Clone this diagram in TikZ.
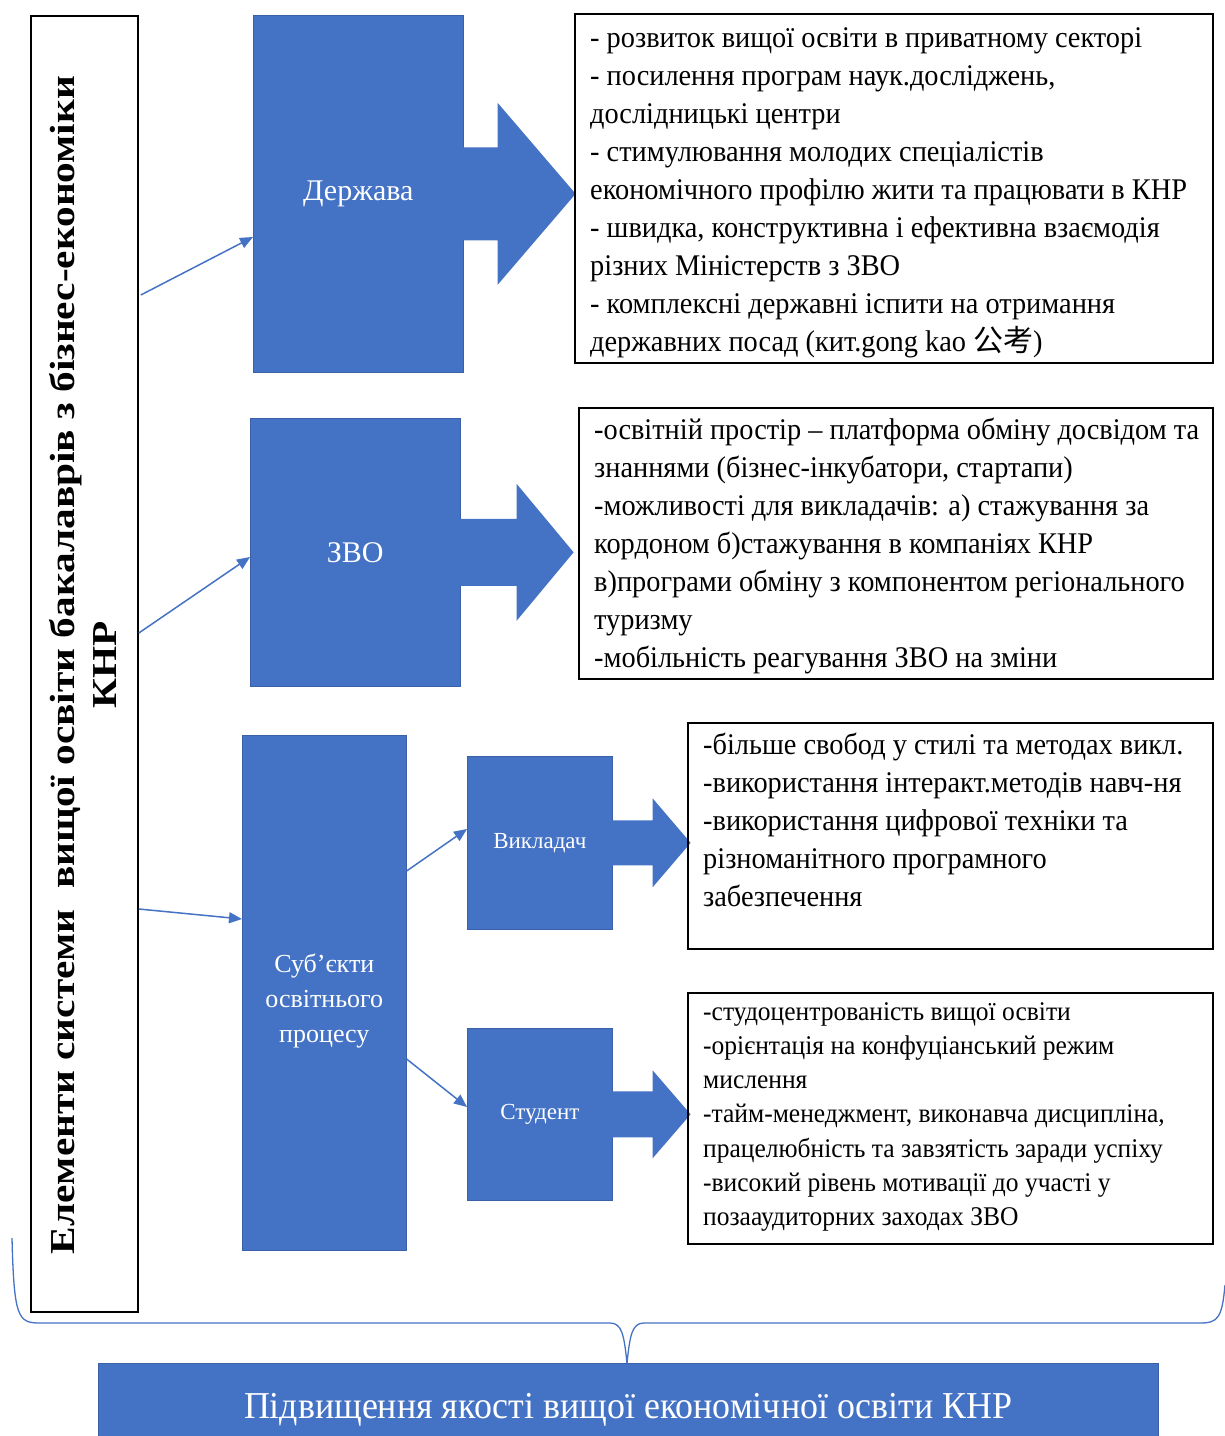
\documentclass[tikz,border=0pt]{standalone}
\usepackage{fontspec}
\setmainfont{Liberation Serif}
\newfontfamily\narrowfont[FakeStretch=0.945]{Liberation Serif}
\newfontfamily\titlefont[FakeStretch=1.18]{Liberation Serif}
\newfontfamily\cjk{Noto Sans CJK SC}
\usetikzlibrary{arrows.meta,calc}
\definecolor{blk}{HTML}{4472C4}
% block arrow: node, shaft length, head length, shaft half-height, head half-height
\newcommand\blockarrow[5]{%
  \fill[blk] ($(#1.east)+(-1,-#4)$) -- ++(#2+1,0) -- ++(0,#4-#5)
    -- ($(#1.east)+(#2+#3,0)$) -- ($(#1.east)+(#2,#5)$) -- ++(0,#4-#5)
    -- ($(#1.east)+(-1,#4)$) -- cycle;}
\begin{document}
\begin{tikzpicture}[x=1pt,y=-1pt,
  blueblock/.style={fill=blk, draw=blk!85!black, line width=0.6pt, text=white,
    inner sep=0pt, anchor=north west, align=center},
  textbox/.style={draw=black, line width=1.8pt, anchor=north west, inner sep=0pt},
  body/.style={anchor=north west, align=left, inner sep=0pt,
    font=\narrowfont\fontsize{30}{38}\selectfont},
  link/.style={draw=blk, line width=1.5pt, -{Triangle[length=13pt,width=11pt]}},
  bracestyle/.style={draw=blk, line width=1.3pt}
]
\useasboundingbox (0,0) rectangle (1225,1436);

% left frame with vertical title
\node[textbox, minimum width=107pt, minimum height=1296pt] (frame) at (30,15) {};
\node[rotate=90, align=center, inner sep=0pt,
  font=\titlefont\bfseries\fontsize{35}{42}\selectfont] (title) at (83,665)
  {Елементи системи\ \ вищої освіти бакалаврів з бізнес-економіки\\КНР};

% blue blocks
\node[blueblock, minimum width=210pt, minimum height=357pt,
  font=\fontsize{30}{36}\selectfont] (state) at (253,15) {Держава};
\node[blueblock, minimum width=210pt, minimum height=268pt,
  font=\fontsize{30}{36}\selectfont] (zvo) at (250,418) {ЗВО};
\node[blueblock, minimum width=164pt, minimum height=515pt,
  font=\fontsize{26}{35}\selectfont] (subj) at (242,735)
  {\rule{0pt}{4.5pt}\\[-4.5pt]Суб’єкти\\освітнього\\процесу};
\node[blueblock, minimum width=145pt, minimum height=173pt,
  font=\fontsize{23}{26}\selectfont] (teach) at (467,756) {\raisebox{-2pt}{Викладач}};
\node[blueblock, minimum width=145pt, minimum height=172pt,
  font=\fontsize{23}{26}\selectfont] (stud) at (467,1028) {\raisebox{-3pt}{Студент}};

% block arrows
\blockarrow{state}{34}{78}{46.5}{91}
\blockarrow{zvo}{56}{57}{33.5}{68.5}
\blockarrow{teach}{40}{38}{22.5}{44.5}
\blockarrow{stud}{40}{38}{23}{44}

% text boxes
\node[textbox, minimum width=638pt, minimum height=349pt] (b1) at (574,13) {};
\node[body] (t1) at (590,27) {%
- розвиток вищої освіти в приватному секторі\\
- посилення програм наук.досліджень,\\
дослідницькі центри\\
- стимулювання молодих спеціалістів\\
економічного профілю жити та працювати в КНР\\
- швидка, конструктивна і ефективна взаємодія\\
різних Міністерств з ЗВО\\
- комплексні державні іспити на отримання\\
державних посад (кит.gong kao {\cjk 公考})};

\node[textbox, minimum width=634pt, minimum height=271pt] (b2) at (578,407) {};
\node[body] (t2) at (594,418) {%
-освітній простір – платформа обміну досвідом та\\
знаннями (бізнес-інкубатори, стартапи)\\
-можливості для викладачів: а) стажування за\\
кордоном б)стажування в компаніях КНР\\
в)програми обміну з компонентом регіонального\\
туризму\\
-мобільність реагування ЗВО на зміни};

\node[textbox, minimum width=525pt, minimum height=226pt] (b3) at (687,722) {};
\node[body] (t3) at (703,733) {%
-більше свобод у стилі та методах викл.\\
-використання інтеракт.методів навч-ня\\
-використання цифрової техніки та\\
різноманітного програмного\\
забезпечення};

\node[textbox, minimum width=525pt, minimum height=251pt] (b4) at (687,992) {};
\node[body, font=\narrowfont\fontsize{27}{34.3}\selectfont] (t4) at (703,1002) {%
-студоцентрованість вищої освіти\\
-орієнтація на конфуціанський режим\\
мислення\\
-тайм-менеджмент, виконавча дисципліна,\\
працелюбність та завзятість заради успіху\\
-високий рівень мотивації до участі у\\
позааудиторних заходах ЗВО};

% connectors
\draw[link] ($(frame.north east)+(2,280)$) -- ($(state.north west)+(0,222)$);
\draw[link] ($(frame.north east)+(0,618)$) -- ($(zvo.north west)+(0,139)$);
\draw[link] ($(frame.north east)+(0,894)$) -- ($(subj.north west)+(0,184)$);
\draw[link] ($(subj.north east)+(0,136)$) -- ($(teach.north west)+(0,73)$);
\draw[link] ($(subj.north east)+(0,324)$) -- ($(stud.north west)+(0,79)$);

% result block
\node[blueblock, minimum width=1060pt, minimum height=94pt,
  font=\narrowfont\fontsize{38}{44}\selectfont] (result) at (98,1363)
  {Підвищення якості вищої економічної освіти КНР};

% brace
\coordinate (braceL) at (12,1238);
\coordinate (braceR) at (1225,1285);
\coordinate (braceTip) at (result.north -| 627,0);
\draw[bracestyle] (braceL) .. controls (14,1318) and (18,1323) .. (40,1323)
  -- (610,1323) .. controls (622,1323) and (624,1335) .. (braceTip);
\draw[bracestyle] (braceTip) .. controls (630,1335) and (632,1323) .. (644,1323)
  -- (1200,1323) .. controls (1218,1323) and (1222,1318) .. (braceR);
\end{tikzpicture}
\end{document}
